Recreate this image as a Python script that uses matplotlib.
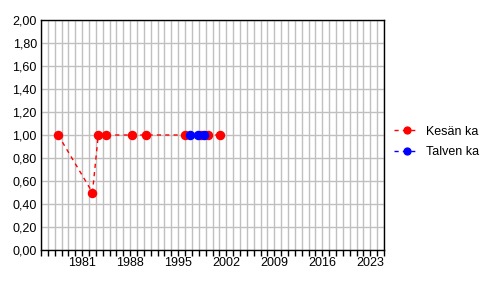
import numpy as np
import matplotlib.pyplot as plt
from matplotlib.ticker import FixedLocator, MultipleLocator

plt.rcParams['font.family'] = ['Liberation Sans', 'DejaVu Sans']

# data (decimal years)
kesa_x = [1977.5, 1982.5, 1983.35, 1984.45, 1988.3, 1990.3, 1996.05, 1998.3, 1999.35, 2001.15]
kesa_y = [1.0, 0.5, 1.0, 1.0, 1.0, 1.0, 1.0, 1.0, 1.0, 1.0]
talvi_x = [1996.75, 1997.9, 1998.75]
talvi_y = [1.0, 1.0, 1.0]
year_labels = [1981, 1988, 1995, 2002, 2009, 2016, 2023]
y_ticks = [0.0, 0.2, 0.4, 0.6, 0.8, 1.0, 1.2, 1.4, 1.6, 1.8, 2.0]

fig = plt.figure(figsize=(4.96, 2.96), dpi=100)
ax = fig.add_axes([41/496, 46/296, 343/496, 230/296])

ax.plot(kesa_x, kesa_y, color='#ff0000', ls=(0, (3, 3)), lw=1,
        marker='o', ms=5.8, mec='#ff0000', mfc='#ff0000', label='Kesän ka', zorder=3)
ax.plot(talvi_x, talvi_y, color='#0000ff', ls=(0, (3, 3)), lw=1,
        marker='o', ms=5.8, mec='#0000ff', mfc='#0000ff', label='Talven ka', zorder=4)

ax.set_xlim(1975, 2025)
ax.set_ylim(0, 2)

ax.xaxis.set_minor_locator(MultipleLocator(1))
ax.xaxis.set_major_locator(FixedLocator(year_labels))
ax.set_xticklabels([str(y) for y in year_labels])
ax.set_yticks(y_ticks)
ax.set_yticklabels([f'{v:.2f}'.replace('.', ',') for v in y_ticks])

ax.grid(True, which='both', axis='x', color='#c0c0c0', lw=1)
ax.grid(True, which='major', axis='y', color='#c0c0c0', lw=1)
ax.set_axisbelow(True)

ax.tick_params(axis='x', which='both', direction='out', length=4, width=1,
               labelsize=9, pad=1, colors='black')
ax.tick_params(axis='y', which='both', length=0, labelsize=9, pad=3)
for s in ax.spines.values():
    s.set_color('black')
    s.set_linewidth(1)

leg = ax.legend(loc='center left', bbox_to_anchor=(1.0, 0.47), frameon=False,
                fontsize=9, handlelength=2.0, handletextpad=0.6, labelspacing=0.65,
                borderaxespad=0.4, markerscale=0.85)

fig.savefig('out.png', dpi=100)
